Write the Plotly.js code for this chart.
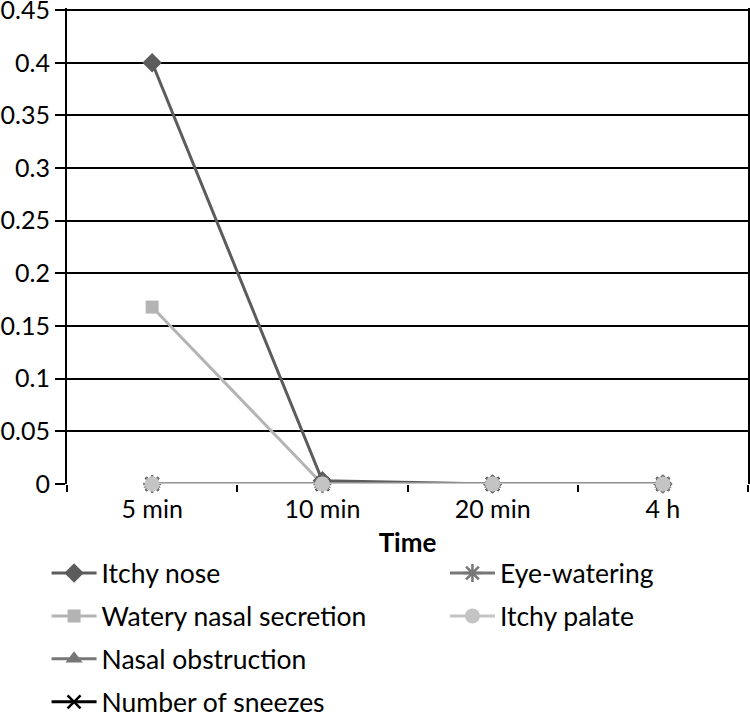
<!DOCTYPE html>
<html><head><meta charset="utf-8">
<script src="https://cdn.plot.ly/plotly-3.0.1.min.js"></script>
<style>html,body{margin:0;padding:0;background:#fff}#c{width:750px;height:715px}</style>
</head><body><div id="c"></div>
<script>
const categories = ["5 min", "10 min", "20 min", "4 h"];
const itchyNose = [0.4, 0.003, 0, 0];
const wateryNasal = [0.168, 0, 0, 0];
const nasalObstruction = [0, 0, 0, 0];
const sneezes = [0, 0, 0, 0];
const eyeWatering = [0, 0, 0, 0];
const itchyPalate = [0, 0, 0, 0];
const yTickVals = [0, 0.05, 0.1, 0.15, 0.2, 0.25, 0.3, 0.35, 0.4, 0.45];
const yTickText = ["0", "0.05", "0.1", "0.15", "0.2", "0.25", "0.3", "0.35", "0.4", "0.45"];

const FONT = "Lato";
function tr(name, y, color, symbol, size, legend, group) {
  const outline = (symbol === "x-thin" || symbol === "asterisk");
  return {
    x: categories, y: y, name: name, type: "scatter", mode: "lines+markers",
    line: {color: color, width: 3},
    marker: {symbol: symbol, size: size, color: color, line: {color: color, width: outline ? 2.5 : 0}},
    cliponaxis: false, legend: legend, legendgroup: group
  };
}
const data = [
  tr("Itchy nose", itchyNose, "#5c5c5c", "diamond", 15, "legend", "a"),
  tr("Watery nasal secretion", wateryNasal, "#b4b4b4", "square", 13, "legend", "b"),
  tr("Nasal obstruction", nasalObstruction, "#777777", "triangle-up", 15, "legend", "c"),
  tr("Number of sneezes", sneezes, "#000000", "x-thin", 13, "legend", "d"),
  tr("Eye-watering", eyeWatering, "#777777", "asterisk", 15, "legend2", "e"),
  tr("Itchy palate", itchyPalate, "#c4c4c4", "circle", 15, "legend2", "f")
];
const legendCommon = {
  orientation: "v", traceorder: "grouped", tracegroupgap: 5.5,
  font: {family: FONT, size: 26.5, color: "#000"}, itemwidth: 45,
  bgcolor: "rgba(0,0,0,0)", xanchor: "left", yanchor: "top"
};
const layout = {
  width: 750, height: 715,
  margin: {l: 67, r: 2, t: 8, b: 231, autoexpand: false},
  paper_bgcolor: "#fff", plot_bgcolor: "#fff",
  font: {family: FONT, size: 25, color: "#000"},
  showlegend: true,
  legend: Object.assign({}, legendCommon, {x: -0.03, y: -0.137}),
  legend2: Object.assign({}, legendCommon, {x: 0.555, y: -0.137}),
  xaxis: {
    type: "category", range: [-0.5, 3.5], showgrid: false, zeroline: false,
    showline: false, ticks: "outside", tickson: "boundaries", ticklen: 7, tickcolor: "#000", tickwidth: 2,
    ticklabelstandoff: 8,
    tickfont: {family: FONT, size: 25, color: "#000"},
    title: {text: "<b>Time</b>", font: {family: FONT, size: 26, color: "#000"}, standoff: 11}
  },
  yaxis: {
    range: [0, 0.452], tickmode: "array", tickvals: yTickVals, ticktext: yTickText,
    ticklabeloverflow: "allow",
    showgrid: true, gridcolor: "#000", gridwidth: 2,
    zeroline: false, showline: true, mirror: true, linecolor: "#000", linewidth: 2,
    ticks: "outside", ticklen: 10, tickcolor: "#000", tickwidth: 2,
    tickfont: {family: FONT, size: 25, color: "#000"}
  }
};
Plotly.newPlot("c", data, layout, {displayModeBar: false, staticPlot: true});
</script></body></html>
